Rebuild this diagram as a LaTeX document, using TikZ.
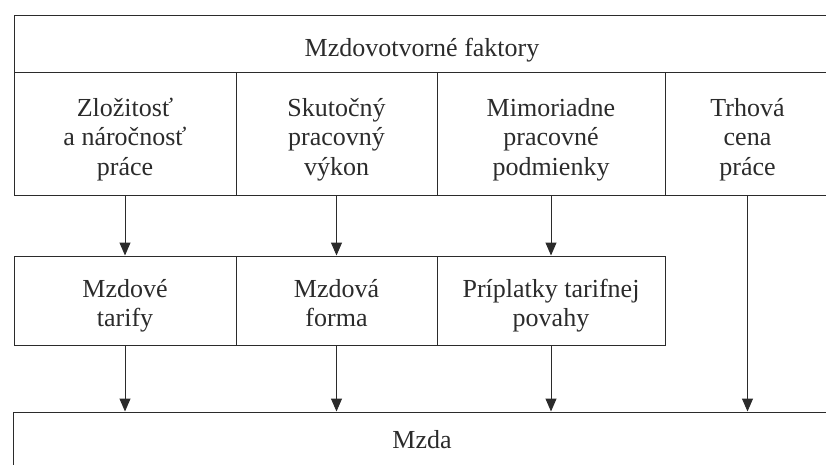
\documentclass[tikz,border=0pt]{standalone}
\usepackage{fontspec}
\setmainfont{Liberation Serif}
\usetikzlibrary{arrows.meta,positioning}
\definecolor{ink}{HTML}{2B2B2B}
\tikzset{
    cell/.style={draw=ink,line width=1pt,inner sep=0pt},
    lbl/.style={text=ink,align=center,inner sep=0pt,yshift=-7pt,
        font=\fontsize{26}{29.5}\selectfont,
        execute at begin node=\strut,execute at end node=\strut},
    flow/.style={draw=ink,line width=1pt,-{Triangle[width=11pt,length=13pt]}}
}
\begin{document}
\begin{tikzpicture}[x=1pt,y=-1pt]
    \useasboundingbox (0,0) rectangle (826,465);
    \clip (0,0) rectangle (826,465);
    %% NOTE:
    %% Header across the top
    \node[cell,minimum width=816pt,minimum height=57pt,label={[lbl,yshift=1pt]center:Mzdovotvorné faktory}] (faktory) at (422,44.5) {};
    %% Factors
    \node[cell,minimum width=222pt,minimum height=122pt,label={[lbl]center:{Zložitosť\\a náročnosť\\práce}}] (zloz) at (125,134) {};
    \node[cell,minimum width=201pt,minimum height=122pt,label={[lbl]center:{Skutočný\\pracovný\\výkon}}] (vykon) at (336.5,134) {};
    \node[cell,minimum width=228pt,minimum height=122pt,label={[lbl]center:{Mimoriadne\\pracovné\\podmienky}}] (podm) at (551,134) {};
    \node[cell,minimum width=165pt,minimum height=122pt,label={[lbl]center:{Trhová\\cena\\práce}}] (trh) at (747.5,134) {};
    %% Middle row
    \node[cell,minimum width=222pt,minimum height=89pt,label={[lbl]center:{Mzdové\\tarify}}] (tarify) at (125,300.5) {};
    \node[cell,minimum width=201pt,minimum height=89pt,label={[lbl]center:{Mzdová\\forma}}] (forma) at (336.5,300.5) {};
    \node[cell,minimum width=228pt,minimum height=89pt,label={[lbl]center:{Príplatky tarifnej\\povahy}}] (priplatky) at (551,300.5) {};
    %% Result, cut off at the bottom
    \node[cell,minimum width=818pt,minimum height=58pt,label={[lbl,yshift=5pt]center:Mzda}] (mzda) at (422,441) {};
    %% arrows
    \draw[flow] (zloz) -- (tarify);
    \draw[flow] (vykon) -- (forma);
    \draw[flow] (podm) -- (priplatky);
    \draw[flow] (tarify) -- (tarify |- mzda.north);
    \draw[flow] (forma) -- (forma |- mzda.north);
    \draw[flow] (priplatky) -- (priplatky |- mzda.north);
    \draw[flow] (trh) -- (trh |- mzda.north);
\end{tikzpicture}
\end{document}
